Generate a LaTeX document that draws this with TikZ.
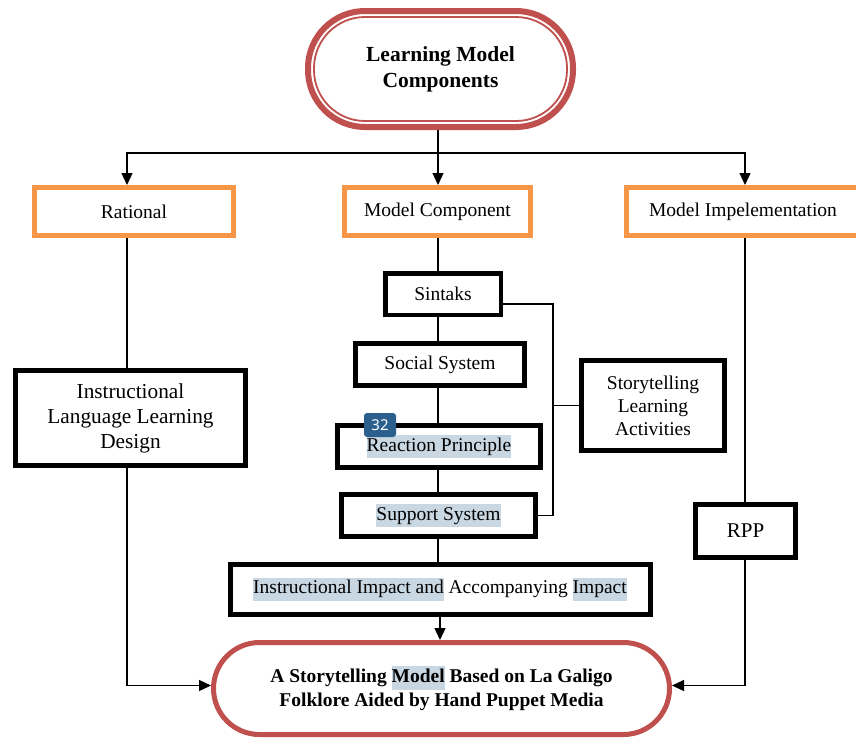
\documentclass[tikz,border=0pt]{standalone}
\usepackage{fontspec}
\setmainfont{Liberation Serif}
\newfontfamily\badgefont{Noto Sans}
\usetikzlibrary{arrows.meta,backgrounds}
\definecolor{redc}{HTML}{C0504D}
\definecolor{orc}{HTML}{F79646}
\definecolor{hlc}{HTML}{C9D7E2}
\definecolor{badgec}{HTML}{2B5F8E}
\newcommand\hlt[1]{{\setlength{\fboxsep}{0pt}\colorbox{hlc}{\strut #1}}}
\begin{document}
\begin{tikzpicture}[x=1pt,y=-1pt,
 every node/.style={inner sep=0pt, outer sep=0pt},
 txt/.style={font=\fontsize{19.5}{23}\selectfont, align=center},
 orbox/.style={draw=orc, line width=5pt, fill=white, txt},
 blkbox/.style={draw=black, line width=5pt, fill=white, txt},
 conn/.style={line width=1.3pt, draw=black},
 arr/.style={conn, -{Triangle[length=12pt,width=11pt]}, shorten >=2.5pt},
]
\useasboundingbox (0,0) rectangle (856,739);
\clip (0,0) rectangle (856,739);

% top
\node[draw=redc, line width=6pt, fill=white, rounded corners=57pt,
      minimum width=265pt, minimum height=116pt,
      font=\bfseries\fontsize{21.5}{26}\selectfont, align=center]
      (top) at (440.5,69) {Learning Model\\Components};
\draw[redc, line width=1.8pt, rounded corners=51pt]
      ([shift={(6,6)}]top.north west) rectangle ([shift={(-6,-6)}]top.south east);

% orange row
\node[orbox, minimum width=199pt, minimum height=48pt] (rat) at (134,211.5) {Rational};
\node[orbox, minimum width=186pt, minimum height=48pt] (mc) at (437.5,211.5) {Model Component};
\node[orbox, minimum width=233pt, minimum height=48pt] (mi) at (743,211.5) {Model Impelementation};

% left
\node[blkbox, font=\fontsize{21.3}{25}\selectfont, minimum width=230pt, minimum height=95pt]
      (ild) at (130.5,418) {Instructional\\Language Learning\\Design};

% middle
\node[blkbox, line width=4.5pt, minimum width=115.5pt, minimum height=41.5pt] (sin) at (443,294) {Sintaks};
\node[blkbox, minimum width=169pt, minimum height=42pt] (soc) at (440,364.5) {Social System};
\node[blkbox, minimum width=203pt, minimum height=42pt] (rea) at (439,446.5) {\hlt{Reaction Principle}};
\node[blkbox, minimum width=194pt, minimum height=42pt] (sup) at (438.5,515.5) {\hlt{Support System}};
\node[blkbox, minimum width=420pt, minimum height=50pt] (imp) at (440,589)
      {\hlt{Instructional Impact and} Accompanying \hlt{Impact}};
\node[blkbox, minimum width=143pt, minimum height=90pt] (sla) at (653,405.5)
      {Storytelling\\Learning\\Activities};

% right
\node[blkbox, font=\fontsize{21}{25}\selectfont, minimum width=100pt, minimum height=53pt]
      (rpp) at (745.5,531) {RPP};

% bottom
\node[draw=redc, line width=5pt, fill=white, rounded corners=46pt,
      minimum width=456pt, minimum height=92pt,
      font=\bfseries\fontsize{19.5}{24}\selectfont, align=center]
      (bot) at (441.5,688.5) {A Storytelling \hlt{Model} Based on La Galigo\\Folklore Aided by Hand Puppet Media};

% badge
\node[fill=badgec, rounded corners=3pt, minimum width=32pt, minimum height=24pt,
      text=white, font=\badgefont\fontsize{15}{17}\selectfont] (badge) at (380,425) {32};

\coordinate (spine) at (438,0);
\coordinate (lx) at (127,0);
\coordinate (rx) at (745,0);
\coordinate (bx) at (553,0);

\begin{scope}[on background layer]
\fill[white] (0,0) rectangle (856,739);
\draw[conn] (top.south -| spine) -- ++(0,26) coordinate (hub);
\draw[arr] (hub) -| (rat.north -| lx);
\draw[arr] (hub) -| (mi.north -| rx);
\draw[arr] (hub) -- (mc.north -| spine);

\draw[conn] (rat.south -| lx) -- (ild.north -| lx);
\draw[arr] (ild.south -| lx) |- ([yshift=3pt]bot.west);

\draw[conn] (mc.south -| spine) -- (sin.north -| spine);
\draw[conn] (sin.south -| spine) -- (soc.north -| spine);
\draw[conn] (soc.south -| spine) -- (rea.north -| spine);
\draw[conn] (rea.south -| spine) -- (sup.north -| spine);
\draw[conn] (sup.south -| spine) -- (imp.north -| spine);
\draw[arr] (imp.south) -- (imp.south |- bot.north);

\draw[conn] ([yshift=-10pt]sin.east) -- ([yshift=-10pt]sin.east -| bx) -- (sup.east -| bx) -- (sup.east);
\draw[conn] (sla.west -| bx) -- (sla.west);

\draw[conn] (mi.south -| rx) -- (rpp.north -| rx);
\draw[arr] (rpp.south -| rx) |- ([yshift=3pt]bot.east);
\end{scope}
\end{tikzpicture}
\end{document}
